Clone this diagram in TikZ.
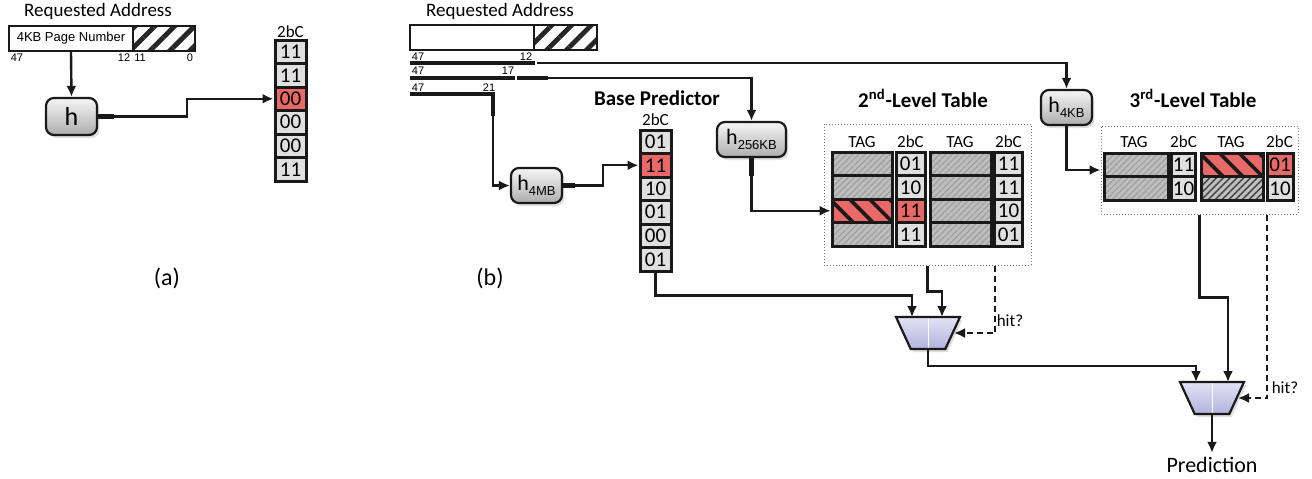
\documentclass[tikz,border=0pt]{standalone}
\usepackage{fontspec}
\setmainfont{Carlito}
\newfontfamily\arialfont{Liberation Sans}
\usetikzlibrary{arrows.meta,shapes.geometric,shadows,patterns.meta}

\definecolor{cellgray}{RGB}{224,224,224}
\definecolor{cellred}{RGB}{233,104,104}
\definecolor{tagbase}{RGB}{190,190,190}
\definecolor{muxtop}{RGB}{226,226,245}
\definecolor{muxbot}{RGB}{178,178,222}

\newcommand{\hsub}[1]{h\raisebox{-2.4pt}{\fontsize{6.5}{7}\arialfont #1}}

\begin{document}
\begin{tikzpicture}[x=0.5pt,y=-0.5pt,>={Latex[length=5.5pt,width=5pt]},
    wire/.style={line width=1.2pt,draw=black!90},
    wirestub/.style={line width=2.4pt,draw=black!90},
    hitwire/.style={wire,dash pattern=on 3pt off 2pt},
    addrtitle/.style={font=\fontsize{9.5}{11}\selectfont},
    tblhead/.style={font=\fontsize{10.5}{12}\selectfont\bfseries},
    colhead/.style={font=\fontsize{8.5}{10}\selectfont,inner sep=0pt},
    bitlbl/.style={font=\fontsize{5.5}{6}\arialfont,inner sep=0pt},
    bar/.style={fill=black!90,minimum width=#1,minimum height=2pt,inner sep=0pt,outer sep=0pt},
    addrbox/.style={draw=black!90,line width=1pt,fill=white,minimum width=#1,minimum height=12.5pt,inner sep=0pt},
    offbox/.style={draw=black!90,line width=1pt,minimum width=#1,minimum height=12.5pt,inner sep=0pt,
        preaction={fill=white},pattern={Lines[angle=45,distance=7pt,line width=2.4pt]},pattern color=black!85},
    cell/.style={draw=black!90,line width=1.5pt,fill=cellgray,minimum width=#1,minimum height=11.75pt,
        inner sep=0pt,font=\fontsize{10.5}{12}\selectfont},
    cell/.default=15.5pt,
    tag/.style={draw=black!90,line width=1.5pt,minimum width=#1,minimum height=11.75pt,inner sep=0pt,
        preaction={fill=tagbase},pattern={Lines[angle=45,distance=2.2pt,line width=0.6pt]},pattern color=black!38},
    tagred/.style={tag=#1,preaction={fill=cellred},pattern={Lines[angle=-45,distance=7pt,line width=1.8pt]},pattern color=black!90},
    tagdense/.style={tag=#1,preaction={fill=black!25},pattern={Lines[angle=45,distance=2.4pt,line width=0.7pt]},pattern color=black!75},
    hbox/.style={draw=black!90,line width=1.1pt,rounded corners=4pt,top color=black!4,bottom color=black!32,
        minimum width=#1,minimum height=17.5pt,inner sep=0pt,font=\fontsize{11}{12}\selectfont,
        drop shadow={opacity=0.25,shadow xshift=1.2pt,shadow yshift=-1.5pt}},
    tblframe/.style={draw=black!55,densely dotted,line width=0.5pt,inner sep=0pt},
    mux/.style={trapezium,trapezium angle=67,trapezium stretches=true,shape border rotate=180,
        minimum width=32pt,minimum height=16pt,inner sep=1pt,draw=black!90,line width=1.1pt,
        top color=muxtop,bottom color=muxbot,drop shadow={opacity=0.25,shadow xshift=1.2pt,shadow yshift=-1.5pt},
        path picture={\draw[white,line width=0.4pt] (path picture bounding box.north) -- (path picture bounding box.south);}},
    lbl/.style={font=\fontsize{8.5}{10}\selectfont}]
\useasboundingbox (0,0) rectangle (1312,478);

% (a)
\node[addrtitle] (reqA) at (98,11) {Requested Address};
\node[addrbox=62pt,font=\fontsize{6.5}{7}\arialfont] (pageA) at (71,38.5) {4KB Page Number};
\node[offbox=31pt] (offA) at (164,38.5) {};
\node[bitlbl] (a47) at (17,58) {47};
\node[bitlbl] (a12) at (124,58) {12};
\node[bitlbl] (a11) at (140,58) {11};
\node[bitlbl] (a0) at (190,58) {0};
\node[hbox=25.5pt,minimum height=18.5pt,font=\fontsize{13}{14}\selectfont] (hA) at (71.5,116.5) {h};
\node[colhead] (aHead) at (290.5,32) {2bC};
\foreach \v/\c [count=\i] in {11/cellgray,11/cellgray,00/cellred,00/cellgray,00/cellgray,11/cellgray}
  \node[cell,fill=\c] (a\i) at (290.5,28.25+23.5*\i) {\v};
\node[font=\fontsize{12}{14}\selectfont] (capA) at (167,278) {(a)};

\draw[wire,->] (pageA.south) -- (hA.north);
\draw[wirestub] (hA.east) -- ++(16,0);
\draw[wire,->] (hA.east) -- ++(89,0) |- (a3.west);

% (b)
\node[addrtitle] (reqB) at (500,11) {Requested Address};
\node[addrbox=62pt] (pageB) at (472,37.5) {};
\node[offbox=31.5pt] (offB) at (565.5,37.5) {};
\node[bar=62.5pt] (bit12) at (472.5,63) {};
\node[bar=52.5pt] (bit17) at (462.5,78) {};
\node[bar=42.5pt] (bit21) at (452.5,94) {};
\node[bitlbl] (b47a) at (418,57) {47};
\node[bitlbl] (b12) at (526,57) {12};
\node[bitlbl] (b47b) at (418,71) {47};
\node[bitlbl] (b17) at (508,71) {17};
\node[bitlbl] (b47c) at (418,88) {47};
\node[bitlbl] (b21) at (489,88) {21};
\node[font=\fontsize{12}{14}\selectfont] (capB) at (490,278) {(b)};

\node[hbox=25.5pt] (h4M) at (536.5,185.5) {\hsub{4MB}};
\node[hbox=34.5pt] (h256) at (751.5,139.5) {\hsub{256KB}};
\node[hbox=25.5pt] (h4K) at (1066.5,107.5) {\hsub{4KB}};

\node[tblhead] (baseT) at (657,98) {Base Predictor};
\node[colhead] (baseHead) at (655.5,120) {2bC};
\foreach \v/\c [count=\i] in {01/cellgray,11/cellred,10/cellgray,01/cellgray,00/cellgray,01/cellgray}
  \node[cell,fill=\c] (base\i) at (655.5,118.25+23.5*\i) {\v};

\node[tblhead] (t2T) at (923,98) {2\textsuperscript{nd}-Level Table};
\node[tblframe,minimum width=103.5pt,minimum height=70.5pt] (frame2) at (927.5,194.5) {};
\foreach \x/\t [count=\i] in {862/TAG,910.5/2bC,960/TAG,1008.5/2bC}
  \node[colhead] (t2h\i) at (\x,142) {\t};
\foreach \i in {1,2,4}
  \node[tag=30pt] (t2a\i) at (862.5,140.25+23.5*\i) {};
\node[tagred=30pt] (t2a3) at (862.5,210.75) {};
\foreach \v/\c [count=\i] in {01/cellgray,10/cellgray,11/cellred,11/cellgray}
  \node[cell=14.5pt,fill=\c] (t2c\i) at (910.5,140.25+23.5*\i) {\v};
\foreach \i in {1,...,4}
  \node[tag=30.5pt] (t2b\i) at (960.5,140.25+23.5*\i) {};
\foreach \v [count=\i] in {11,11,10,01}
  \node[cell=14pt] (t2d\i) at (1008.5,140.25+23.5*\i) {\v};

\node[tblhead] (t3T) at (1193,98) {3\textsuperscript{rd}-Level Table};
\node[tblframe,minimum width=98.5pt,minimum height=44pt] (frame3) at (1199.5,170) {};
\foreach \x/\t [count=\i] in {1134/TAG,1183.5/2bC,1231/TAG,1279.5/2bC}
  \node[colhead] (t3h\i) at (\x,142) {\t};
\node[tag=32pt] (t3a1) at (1136,164.75) {};
\node[tag=32pt] (t3a2) at (1136,188.25) {};
\node[cell=12pt] (t3b1) at (1183.5,164.75) {11};
\node[cell=12pt] (t3b2) at (1183.5,188.25) {10};
\node[tagred=31pt] (t3c1) at (1232,164.75) {};
\node[tagdense=31pt] (t3c2) at (1232,188.25) {};
\node[cell=13pt,fill=cellred] (t3d1) at (1280,164.75) {01};
\node[cell=13pt] (t3d2) at (1280,188.25) {10};

\node[mux] (mux1) at (928,333) {};
\node[mux] (mux2) at (1212,398) {};
\coordinate (m1a) at ([xshift=-8pt,yshift=8pt]mux1.center);
\coordinate (m1b) at ([xshift=7pt,yshift=8pt]mux1.center);
\coordinate (m2a) at ([xshift=-8pt,yshift=8pt]mux2.center);
\coordinate (m2b) at ([xshift=8pt,yshift=8pt]mux2.center);
\node[lbl] (hit1) at (1010,321) {hit?};
\node[lbl] (hit2) at (1285,388) {hit?};
\node[font=\fontsize{11}{12}\selectfont,inner sep=2pt] (pred) at (1212,465) {Prediction};

\draw[wire,->] ([xshift=1pt]bit12.east) -| (h4K.north);
\draw[wirestub] ([xshift=1pt]bit17.east) -- ++(31,0);
\draw[wire,->] ([xshift=1pt]bit17.east) -| (h256.north);
\draw[wirestub] ([xshift=-1pt]bit21.east) -- ++(0,22);
\draw[wire,->] ([xshift=-1pt]bit21.east) |- (h4M.west);

\draw[wirestub] (h4M.east) -- ++(12,0);
\draw[wire,->] (h4M.east) -- ++(40,0) |- (base2.west);
\draw[wirestub] (h256.south) -- ++(0,18);
\draw[wire,->] (h256.south) |- (t2a3.west);
\draw[wire,->] (h4K.south) |- (frame3.west);

\draw[wire,->] (base6.south) -- ++(0,23) -| (m1a);
\draw[wire,->] (frame2.south) -- ++(0,26) -| (m1b);
\draw[hitwire,->] ([xshift=33.75pt]frame2.south) |- ([xshift=13pt]mux1.center);
\draw[wire,->] ([yshift=-8pt]mux1.center) -- ++(0,17) -| (m2a);
\draw[wire,->] (frame3.south) -- ++(0,83) -| (m2b);
\draw[hitwire,->] ([xshift=33.75pt]frame3.south) |- ([xshift=13pt]mux2.center);
\draw[wire,->] ([yshift=-8pt]mux2.center) -- (pred);
\end{tikzpicture}
\end{document}
